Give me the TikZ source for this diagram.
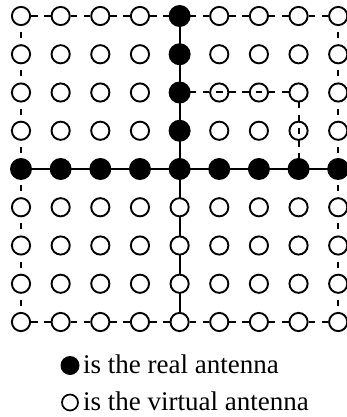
\documentclass[tikz,border=0pt]{standalone}
\usepackage{fontspec}
\setmainfont{Liberation Serif}
\usetikzlibrary{backgrounds}
\begin{document}
\begin{tikzpicture}[x=1pt,y=-1pt,
  virt/.style={circle,draw=black,line width=1.9pt,fill=white,minimum size=18.2pt,inner sep=0pt,outer sep=0pt},
  hollow/.style={virt,fill=none},
  real/.style={circle,fill=black,minimum size=22pt,inner sep=0pt,outer sep=0pt},
  solidlink/.style={line width=2pt},
  hdash/.style={line width=2pt,dash pattern=on 6.61pt off 6.61pt,dash phase=3.3pt},
  vdash/.style={line width=2pt,dash pattern=on 6pt off 13.125pt,dash phase=3pt},
  vdashin/.style={line width=2pt,dash pattern=on 6.375pt off 6.375pt,dash phase=3.19pt},
  legend/.style={font=\fontsize{27}{30}\selectfont,anchor=base west,inner sep=0pt}]
\useasboundingbox (0,0) rectangle (346,417);

% antenna array: 9 x 9 elements
\foreach \i in {0,...,8}{
  \foreach \j in {0,...,8}{
    \pgfmathtruncatemacro\kind{(\j==4 || (\i==4 && \j<4)) ? 1 : ((((\i==5 || \i==6) && \j==2) || (\i==7 && \j==3)) ? 2 : 0)}
    \ifcase\kind
      \node[virt] (c-\i-\j) at ({21+39.65*\i},{16+38.25*\j}) {};
    \or
      \node[real] (c-\i-\j) at ({21+39.65*\i},{16+38.25*\j}) {};
    \or
      \node[hollow] (c-\i-\j) at ({21+39.65*\i},{16+38.25*\j}) {};
    \fi
  }
}

% connections behind the elements
\begin{scope}[on background layer]
  \draw[hdash] (c-0-0.center) -- (c-8-0.center);
  \draw[hdash] (c-0-8.center) -- (c-8-8.center);
  \draw[vdash] (c-0-0.center) -- (c-0-8.center);
  \draw[vdash] (c-8-0.center) -- (c-8-8.center);
  \draw[hdash] (c-4-2.center) -- (c-7-2.center);
  \draw[vdashin] (c-7-2.center) -- (c-7-4.center);
  \draw[solidlink] (c-4-0.center) -- (c-4-8.center);
  \draw[solidlink] (c-0-4.center) -- (c-8-4.center);
\end{scope}

% legend
\node[real,minimum size=19pt] (lr) at (70,365.5) {};
\node[virt,minimum size=16pt,line width=1.7pt] (lv) at (70,402.5) {};
\node[legend] (tr) at (83,373) {is the real antenna};
\node[legend] (tv) at (83,410) {is the virtual antenna};
\end{tikzpicture}
\end{document}
